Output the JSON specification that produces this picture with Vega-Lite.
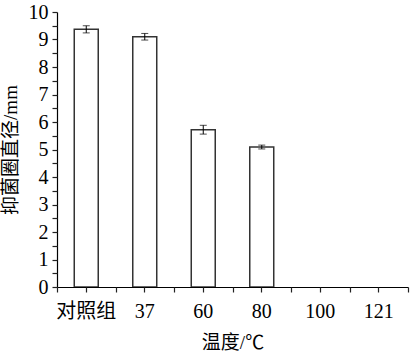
{
  "$schema": "https://vega.github.io/schema/vega-lite/v6.json",
  "width": 351,
  "height": 275,
  "autosize": "none",
  "padding": {"left": 57, "top": 12, "right": 4, "bottom": 73},
  "config": {
    "view": {"stroke": null},
    "axis": {
      "labelFont": "Liberation Serif, Noto Sans CJK SC",
      "titleFont": "Liberation Serif, Noto Sans CJK SC",
      "labelFontSize": 20,
      "titleFontSize": 19,
      "titleFontWeight": "normal",
      "labelColor": "black",
      "titleColor": "black",
      "domainColor": "black",
      "domainWidth": 1.2,
      "tickColor": "black",
      "tickWidth": 1.2,
      "grid": false
    }
  },
  "data": {
    "values": [
      {"temp": "对照组", "value": 9.37, "lo": 9.24, "hi": 9.50},
      {"temp": "37", "value": 9.10, "lo": 8.98, "hi": 9.22},
      {"temp": "60", "value": 5.72, "lo": 5.56, "hi": 5.88},
      {"temp": "80", "value": 5.09, "lo": 5.02, "hi": 5.16},
      {"temp": "100", "value": 0},
      {"temp": "121", "value": 0}
    ]
  },
  "resolve": {"axis": {"x": "independent", "y": "independent"}},
  "layer": [
    {
      "mark": {"type": "bar", "opacity": 0},
      "encoding": {
        "x": {
          "field": "temp", "type": "nominal", "sort": null,
          "axis": {"orient": "bottom", "title": null, "labels": false, "domain": false, "ticks": true, "tickBand": "extent", "tickSize": 5, "tickColor": "#222", "zindex": 2}
        },
        "y": {
          "field": "value", "type": "quantitative",
          "axis": {"orient": "left", "title": null, "labels": false, "domain": false, "ticks": true, "tickSize": 5, "tickColor": "#222", "values": [0, 0.5, 1, 1.5, 2, 2.5, 3, 3.5, 4, 4.5, 5, 5.5, 6, 6.5, 7, 7.5, 8, 8.5, 9, 9.5, 10], "zindex": 2}
        }
      }
    },
    {
      "mark": {"type": "bar", "width": {"band": 0.41}, "fill": "white", "stroke": "#333", "strokeWidth": 1.5},
      "encoding": {
        "x": {
          "field": "temp", "type": "nominal", "sort": null,
          "scale": {"paddingInner": 0, "paddingOuter": 0},
          "axis": {"orient": "bottom", "title": "温度/℃", "labelAngle": 0, "ticks": false, "labelPadding": 14, "titlePadding": 12, "zindex": 1, "domain": true}
        },
        "y": {
          "field": "value", "type": "quantitative",
          "scale": {"domain": [0, 10], "nice": false},
          "title": "抑菌圈直径/mm",
          "axis": {
            "orient": "left",
            "values": [0, 1, 2, 3, 4, 5, 6, 7, 8, 9, 10],
            "ticks": false,
            "labelPadding": 9,
            "titlePadding": 8,
            "zindex": 1
          }
        },
        "strokeOpacity": {"condition": {"test": "datum.value > 0", "value": 1}, "value": 0}
      }
    },
    {
      "transform": [{"filter": "isValid(datum.lo)"}],
      "mark": {"type": "errorbar", "color": "black", "ticks": {"size": 7, "color": "black"}},
      "encoding": {
        "x": {
          "field": "temp", "type": "nominal", "sort": null,
          "axis": {"orient": "bottom", "title": null, "labels": false, "domain": false, "ticks": true, "tickSize": 5, "tickColor": "#222", "zindex": 2}
        },
        "y": {"field": "lo", "type": "quantitative", "axis": null},
        "y2": {"field": "hi"}
      }
    }
  ]
}
